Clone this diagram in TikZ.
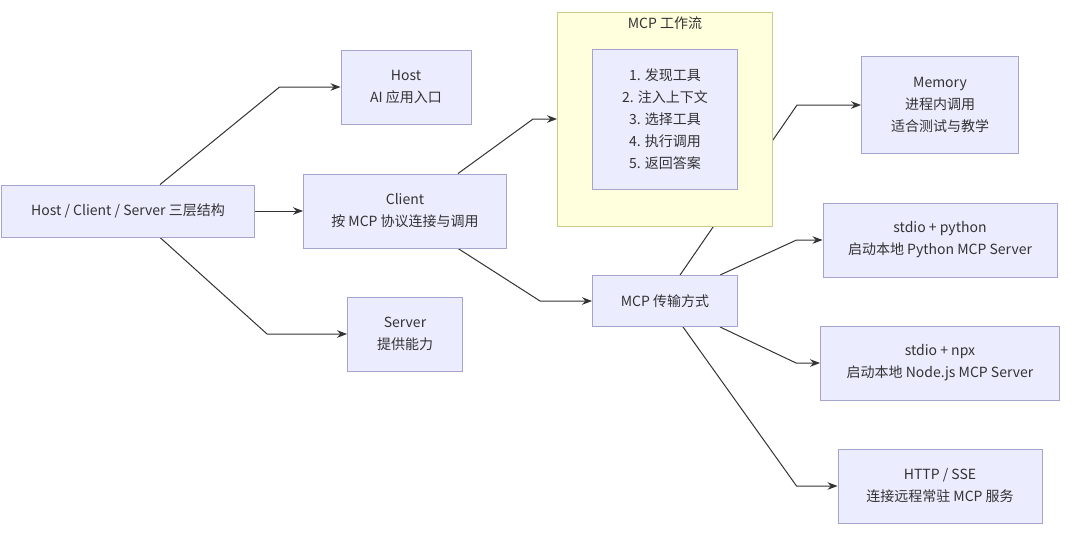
\documentclass[tikz,border=0pt]{standalone}
\usepackage{fontspec}
\setmainfont{Noto Sans CJK SC}
\usetikzlibrary{arrows.meta,backgrounds}

\definecolor{boxfill}{HTML}{ECECFF}
\definecolor{boxline}{HTML}{A4A4CC}
\definecolor{clusterfill}{HTML}{FFFFDE}
\definecolor{clusterline}{HTML}{CCCC8A}
\definecolor{inktext}{HTML}{333333}

\tikzset{
	box/.style={draw=boxline, fill=boxfill, line width=0.9pt, align=center, inner sep=0pt, text=inktext, font=\fontsize{14}{22}\selectfont},
	edge/.style={draw=inktext, line width=1pt, -{Stealth[length=10pt,width=7.5pt]}}
}

\begin{document}
\begin{tikzpicture}[x=1pt,y=-1pt]
		\useasboundingbox (0,0) rectangle (1080,550);
		
		% Layers
		\node[box, minimum width=253, minimum height=52] (root) at (128,211) {Host / Client / Server 三层结构};
		\node[box, minimum width=130, minimum height=74] (host) at (406,87) {Host\\AI 应用入口};
		\node[box, minimum width=203, minimum height=74] (client) at (405,211) {Client\\按 MCP 协议连接与调用};
		\node[box, minimum width=115, minimum height=74] (server) at (405,334) {Server\\提供能力};
		
		% Workflow cluster
		\node[draw=clusterline, fill=clusterfill, line width=0.9pt, minimum width=215, minimum height=214, inner sep=0pt] (flow) at (665,119) {};
		\node[text=inktext, font=\fontsize{14}{16}\selectfont] (flowtitle) at (665,23) {MCP 工作流};
		\node[box, minimum width=145, minimum height=140] (steps) at (665,119) {1. 发现工具\\2. 注入上下文\\3. 选择工具\\4. 执行调用\\5. 返回答案};
		
		% Transport
		\node[box, minimum width=145, minimum height=51] (transport) at (665,301) {MCP 传输方式};
		\node[box, minimum width=157, minimum height=97] (memory) at (940,105) {Memory\\进程内调用\\适合测试与教学};
		\node[box, minimum width=234, minimum height=74] (python) at (940,240) {stdio + python\\启动本地 Python MCP Server};
		\node[box, minimum width=239, minimum height=74] (npx) at (940,363) {stdio + npx\\启动本地 Node.js MCP Server};
		\node[box, minimum width=204, minimum height=74] (http) at (940,486) {HTTP / SSE\\连接远程常驻 MCP 服务};
		
		\begin{scope}[on background layer]
			\fill[white] (0,0) rectangle (1080,550);
			
			% Lines from root
			\draw[edge] ([xshift=32]root.north) -- ([xshift=-61]host.west) -- (host.west);
			\draw[edge] (root.east) -- (client.west);
			\draw[edge] ([xshift=32]root.south) -- ([xshift=-80]server.west) -- (server.west);
			
			% Lines from client
			\draw[edge] ([xshift=53]client.north) -- ([xshift=-24]flow.west) -- (flow.west);
			\draw[edge] ([xshift=53]client.south) -- ([xshift=-52]transport.west) -- (transport.west);
			
			% Lines from transport
			\draw[edge] ([xshift=15]transport.north) -- ([xshift=-64]memory.west) -- (memory.west);
			\draw[edge] ([xshift=55]transport.north) -- ([xshift=-26]python.west) -- (python.west);
			\draw[edge] ([xshift=55]transport.south) -- ([xshift=-24]npx.west) -- (npx.west);
			\draw[edge] ([xshift=18]transport.south) -- ([xshift=-41]http.west) -- (http.west);
		\end{scope}
	\end{tikzpicture}
\end{document}
